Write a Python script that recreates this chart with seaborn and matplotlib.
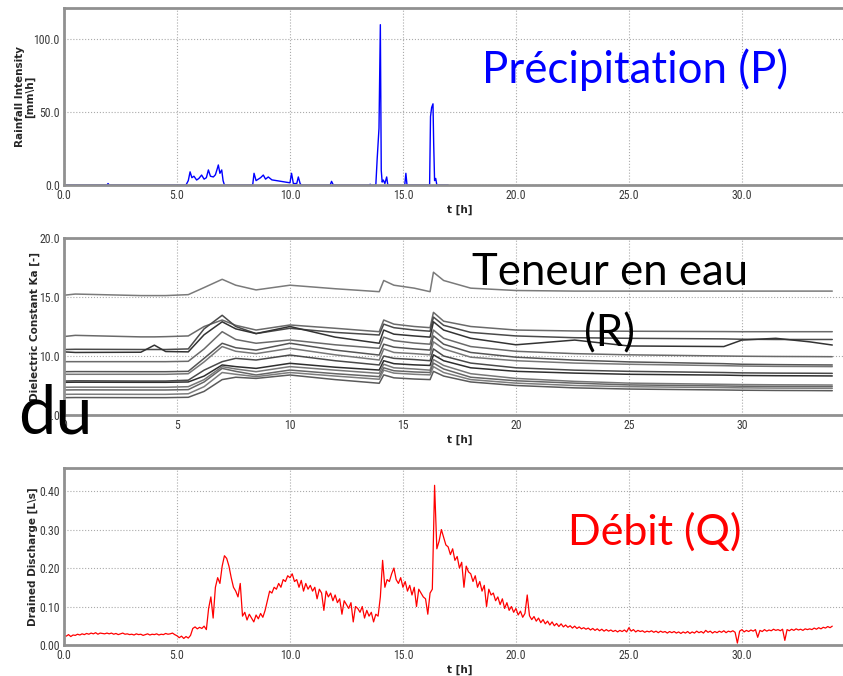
import numpy as np
import pandas as pd
import matplotlib
matplotlib.use("Agg")
import matplotlib.pyplot as plt
import seaborn as sns

# ---------------- data ----------------
# Rainfall intensity [mm/h]
t_rain = [0.0, 1.90, 1.95, 2.00, 5.40, 5.50, 5.58, 5.66, 5.75, 5.87, 5.97, 6.09, 6.20, 6.30,
          6.39, 6.48, 6.61, 6.70, 6.78, 6.83, 6.90, 6.98, 7.04, 7.10, 8.35, 8.41, 8.50, 8.60,
          8.70, 8.82, 8.92, 9.04, 9.20, 9.40, 9.60, 9.80, 10.00, 10.07, 10.15, 10.30, 10.37,
          10.45, 10.50, 11.78, 11.84, 11.92, 13.50, 13.55, 13.60, 13.80, 13.86, 13.94, 14.00,
          14.04, 14.08, 14.13, 14.20, 14.28, 14.33, 15.08, 15.13, 15.18, 16.18, 16.22, 16.27,
          16.33, 16.36, 16.40, 16.45, 16.50, 17.00]
v_rain = [0, 0, 1.0, 0, 0, 3.0, 9.0, 5.0, 6.0, 3.4, 4.5, 6.8, 4.0, 5.0,
          10.3, 6.0, 5.5, 7.0, 11.0, 13.7, 8.0, 10.3, 3.0, 0, 0, 8.0, 3.0, 4.0,
          5.0, 6.8, 4.0, 5.5, 3.5, 3.0, 2.5, 2.0, 1.5, 8.0, 1.0, 1.0, 5.5,
          1.0, 0, 0, 2.5, 0, 0, 0.5, 0, 0, 18.0, 38.8, 109.6,
          10.0, 2.0, 3.4, 1.0, 5.5, 0, 0, 8.0, 0, 0, 46.8, 53.0,
          55.5, 28.5, 3.0, 4.5, 0, 0]

# Dielectric constant Ka [-] for 13 sensors, read at common times
t_ka = [0, 0.5, 3.4, 4.0, 4.5, 5.5, 6.2, 7.0, 7.6, 8.5, 10.0, 12.0, 13.95, 14.15,
        14.6, 15.5, 16.2, 16.35, 16.8, 18.0, 20.0, 22.6, 25.0, 29.2, 30.0, 31.5, 33.0, 34.0]
ka_s1 = [15.15, 15.25, 15.12, 15.12, 15.12, 15.2, 15.8, 16.5, 16.0, 15.6, 16.0, 15.7, 15.45, 16.4,
         16.0, 15.75, 15.45, 17.1, 16.4, 15.75, 15.55, 15.5, 15.5, 15.5, 15.5, 15.5, 15.5, 15.5]
ka_s2 = [11.65, 11.75, 11.62, 11.62, 11.64, 11.7, 12.5, 13.05, 12.6, 12.2, 12.63, 12.35, 12.06, 13.05,
         12.7, 12.5, 12.4, 13.7, 12.95, 12.5, 12.2, 12.12, 12.1, 12.07, 12.06, 12.06, 12.06, 12.06]
ka_s3 = [10.55, 10.57, 10.55, 10.55, 10.55, 10.6, 12.3, 13.45, 12.5, 11.9, 12.35, 12.0, 11.78, 12.7,
         12.4, 12.2, 12.1, 13.3, 12.6, 12.0, 11.7, 11.55, 11.5, 11.45, 11.42, 11.4, 11.4, 11.4]
ka_s4 = [10.35, 10.3, 10.32, 10.92, 10.38, 10.35, 11.8, 12.9, 12.3, 11.9, 12.5, 11.6, 11.08, 12.2,
         11.85, 11.7, 11.6, 12.9, 12.2, 11.5, 10.95, 11.35, 10.85, 10.8, 11.35, 11.5, 11.2, 10.93]
ka_s5 = [9.52, 9.52, 9.52, 9.52, 9.52, 9.55, 10.6, 12.06, 11.4, 11.08, 11.36, 10.95, 10.65, 11.6,
         11.3, 11.1, 11.0, 12.2, 11.5, 10.8, 10.4, 10.2, 10.1, 10.0, 9.98, 9.96, 9.95, 9.94]
ka_s6 = [8.67, 8.68, 8.67, 8.67, 8.67, 8.7, 9.8, 11.08, 10.7, 10.5, 11.08, 10.5, 10.08, 11.0,
         10.75, 10.6, 10.5, 11.7, 11.0, 10.3, 9.9, 9.65, 9.5, 9.35, 9.3, 9.27, 9.25, 9.24]
ka_s7 = [8.45, 8.45, 8.45, 8.45, 8.45, 8.5, 9.5, 10.8, 10.4, 10.2, 10.65, 10.1, 9.66, 10.6,
         10.3, 10.2, 10.1, 11.2, 10.6, 9.9, 9.6, 9.4, 9.3, 9.18, 9.15, 9.12, 9.11, 9.1]
ka_s8 = [7.88, 7.9, 7.88, 7.88, 7.88, 7.95, 8.8, 9.52, 9.8, 9.66, 10.08, 9.6, 9.24, 10.0,
         9.8, 9.7, 9.6, 10.6, 10.0, 9.4, 9.0, 8.8, 8.7, 8.6, 8.57, 8.55, 8.54, 8.53]
ka_s9 = [7.77, 7.78, 7.77, 7.77, 7.77, 7.8, 8.3, 9.24, 9.1, 8.95, 9.38, 9.05, 8.81, 9.6,
         9.35, 9.25, 9.2, 10.1, 9.6, 9.0, 8.7, 8.55, 8.45, 8.38, 8.35, 8.33, 8.32, 8.31]
ka_s10 = [7.35, 7.36, 7.35, 7.35, 7.35, 7.4, 8.0, 9.1, 8.9, 8.67, 9.1, 8.8, 8.53, 9.3,
          9.0, 8.9, 8.8, 9.7, 9.2, 8.5, 8.1, 7.85, 7.7, 7.6, 7.58, 7.56, 7.55, 7.54]
ka_s11 = [7.12, 7.13, 7.12, 7.12, 7.12, 7.15, 7.8, 8.95, 8.7, 8.39, 8.81, 8.5, 8.25, 9.0,
          8.75, 8.65, 8.6, 9.4, 8.9, 8.2, 7.9, 7.7, 7.55, 7.46, 7.44, 7.42, 7.41, 7.4]
ka_s12 = [6.75, 6.76, 6.75, 6.75, 6.75, 6.8, 7.4, 8.6, 8.45, 8.25, 8.6, 8.3, 8.03, 8.8,
          8.55, 8.45, 8.4, 9.1, 8.6, 8.0, 7.7, 7.5, 7.4, 7.32, 7.3, 7.28, 7.27, 7.26]
ka_s13 = [6.47, 6.48, 6.47, 6.47, 6.47, 6.5, 7.0, 8.0, 8.2, 8.1, 8.39, 8.0, 7.69, 8.4,
          8.15, 8.05, 8.0, 8.7, 8.3, 7.8, 7.5, 7.3, 7.2, 7.12, 7.1, 7.08, 7.07, 7.06]
ka_series = [ka_s1, ka_s2, ka_s3, ka_s4, ka_s5, ka_s6, ka_s7, ka_s8, ka_s9, ka_s10, ka_s11, ka_s12, ka_s13]

# Drained discharge [L/s], one value every 0.1 h from t = 0 to 34 h
q_values = [
    0.025, 0.023, 0.027, 0.022, 0.026, 0.025, 0.028, 0.026, 0.029, 0.027,
    0.030, 0.028, 0.031, 0.029, 0.032, 0.028, 0.031, 0.030, 0.029, 0.031,
    0.029, 0.031, 0.028, 0.030, 0.027, 0.029, 0.031, 0.028, 0.029, 0.027,
    0.028, 0.026, 0.029, 0.027, 0.028, 0.025, 0.027, 0.029, 0.026, 0.028,
    0.027, 0.029, 0.026, 0.028, 0.027, 0.030, 0.028, 0.029, 0.031, 0.027,
    0.024, 0.019, 0.023, 0.017, 0.022, 0.018, 0.025, 0.043, 0.047, 0.042,
    0.046, 0.043, 0.049, 0.040, 0.095, 0.125, 0.070, 0.150, 0.175, 0.160,
    0.205, 0.232, 0.225, 0.205, 0.175, 0.150, 0.140, 0.125, 0.160, 0.075,
    0.085, 0.065, 0.080, 0.070, 0.060, 0.078, 0.068, 0.082, 0.072, 0.090,
    0.115, 0.140, 0.135, 0.150, 0.145, 0.160, 0.150, 0.170, 0.165, 0.180,
    0.175, 0.185, 0.165, 0.170, 0.150, 0.168, 0.140, 0.160, 0.145, 0.155,
    0.140, 0.150, 0.120, 0.145, 0.135, 0.090, 0.140, 0.125, 0.135, 0.115,
    0.130, 0.110, 0.120, 0.080, 0.115, 0.105, 0.095, 0.110, 0.060, 0.100,
    0.095, 0.085, 0.100, 0.070, 0.090, 0.075, 0.085, 0.060, 0.080, 0.075,
    0.125, 0.220, 0.150, 0.170, 0.165, 0.185, 0.200, 0.170, 0.160, 0.175,
    0.150, 0.165, 0.140, 0.155, 0.130, 0.150, 0.100, 0.145, 0.135, 0.125,
    0.120, 0.080, 0.135, 0.145, 0.415, 0.250, 0.270, 0.300, 0.280, 0.260,
    0.255, 0.235, 0.250, 0.220, 0.230, 0.200, 0.215, 0.150, 0.205, 0.190,
    0.185, 0.165, 0.180, 0.150, 0.165, 0.140, 0.155, 0.100, 0.145, 0.130,
    0.135, 0.115, 0.125, 0.105, 0.120, 0.095, 0.110, 0.090, 0.100, 0.085,
    0.095, 0.078, 0.088, 0.072, 0.082, 0.130, 0.076, 0.066, 0.074, 0.062,
    0.070, 0.058, 0.066, 0.055, 0.062, 0.052, 0.060, 0.050, 0.056, 0.048,
    0.055, 0.047, 0.052, 0.046, 0.050, 0.044, 0.049, 0.043, 0.047, 0.042,
    0.045, 0.041, 0.044, 0.039, 0.043, 0.038, 0.042, 0.037, 0.041, 0.036,
    0.040, 0.036, 0.039, 0.035, 0.038, 0.034, 0.038, 0.035, 0.039, 0.034,
    0.045, 0.036, 0.040, 0.034, 0.038, 0.035, 0.037, 0.033, 0.036, 0.034,
    0.037, 0.033, 0.036, 0.032, 0.036, 0.033, 0.035, 0.031, 0.035, 0.032,
    0.035, 0.031, 0.034, 0.030, 0.034, 0.031, 0.035, 0.030, 0.034, 0.031,
    0.036, 0.032, 0.035, 0.031, 0.038, 0.033, 0.036, 0.031, 0.035, 0.032,
    0.036, 0.033, 0.037, 0.032, 0.036, 0.034, 0.037, 0.033, 0.005, 0.036,
    0.040, 0.034, 0.038, 0.035, 0.039, 0.036, 0.040, 0.020, 0.038, 0.035,
    0.040, 0.036, 0.039, 0.037, 0.041, 0.038, 0.040, 0.037, 0.041, 0.012,
    0.040, 0.037, 0.041, 0.038, 0.042, 0.039, 0.041, 0.038, 0.042, 0.040,
    0.042, 0.040, 0.044, 0.041, 0.045, 0.042, 0.046, 0.044, 0.048, 0.045,
    0.049]
q_step = 0.1

rain_ticks = [0.0, 50.0, 100.0]
ka_ticks = [5.0, 10.0, 15.0, 20.0]
q_ticks = [0.0, 0.1, 0.2, 0.3, 0.4]
t_ticks = [0, 5, 10, 15, 20, 25, 30]

# ---------------- style ----------------
sns.set_style("white")
plt.rcParams["font.family"] = ["DejaVu Sans"]

W, H = 843, 676
fig = plt.figure(figsize=(W / 100, H / 100), dpi=100)
fig.patch.set_facecolor("white")

LEFT_PX, RIGHT_PX = 64, 856

def add_ax(top_px, bottom_px):
    return fig.add_axes([LEFT_PX / W, 1 - bottom_px / H,
                         (RIGHT_PX - LEFT_PX) / W, (bottom_px - top_px) / H])

tick_font = ["Liberation Sans Narrow", "DejaVu Sans Condensed", "Roboto Condensed", "DejaVu Sans"]

def style_ax(ax, yticks, yfmt, xfmt, ylabel, label_right_px):
    ax.set_xlim(0, 35.05)
    ax.set_xticks(t_ticks)
    ax.set_xticklabels([xfmt.format(v) for v in t_ticks])
    ax.set_yticks(yticks)
    ax.set_yticklabels([yfmt.format(v) for v in yticks])
    ax.grid(True, linestyle=":", color="#aaaaaa", linewidth=0.8)
    for s in ax.spines.values():
        s.set_color("#909090")
        s.set_linewidth(2.0)
        s.set_visible(True)
    ax.tick_params(axis="both", length=0, pad=3, labelsize=8.5, labelcolor="#3a3a3a")
    for lab in ax.get_xticklabels() + ax.get_yticklabels():
        lab.set_family(tick_font)
    ax.set_xlabel("t [h]", fontsize=7.5, fontweight="bold", labelpad=2)
    ax.set_ylabel(ylabel, fontsize=7.5, fontweight="bold", linespacing=1.0)
    ax.yaxis.set_label_coords((label_right_px - LEFT_PX) / (RIGHT_PX - LEFT_PX), 0.5)

# ---- Panel 1: rainfall
ax1 = add_ax(8, 185)
df_rain = pd.DataFrame({"t": t_rain, "P": v_rain})
sns.lineplot(data=df_rain, x="t", y="P", ax=ax1, color="#0000ff", linewidth=1.0,
             estimator=None, sort=False)
ax1.set_ylim(0, 121)
style_ax(ax1, rain_ticks, "{:.1f}", "{:.1f}", "Rainfall Intensity\n[mm\\h]", 35)

# ---- Panel 2: dielectric constant
ax2 = add_ax(238, 415)
rows = []
for i, s in enumerate(ka_series):
    for t, v in zip(t_ka, s):
        rows.append({"t": t, "Ka": v, "sensor": f"S{i+1}"})
df_ka = pd.DataFrame(rows)
greys = ["#7a7a7a", "#6a6a6a", "#4a4a4a", "#333333", "#6a6a6a", "#555555", "#777777",
         "#4a4a4a", "#2e2e2e", "#777777", "#666666", "#7d7d7d", "#5a5a5a"]
sns.lineplot(data=df_ka, x="t", y="Ka", hue="sensor", palette=greys, ax=ax2,
             linewidth=1.1, estimator=None, legend=False)
ax2.set_ylim(5, 20)
style_ax(ax2, ka_ticks, "{:.1f}", "{:d}", "Dielectric Constant Ka [-]", 40)

# ---- Panel 3: discharge
ax3 = add_ax(468, 645)
t_q = np.arange(len(q_values)) * q_step
df_q = pd.DataFrame({"t": t_q, "Q": q_values})
sns.lineplot(data=df_q, x="t", y="Q", ax=ax3, color="#ff0000", linewidth=0.9,
             estimator=None)
ax3.set_ylim(0, 0.46)
style_ax(ax3, q_ticks, "{:.2f}", "{:.1f}", "Drained Discharge [L\\s]", 38)

# ---- overlay annotations
def ftext(x_px, y_px, s, **kw):
    fig.text(x_px / W, 1 - y_px / H, s, **kw)

ann_font = ["Lato", "DejaVu Sans"]
ftext(635, 83, "Précipitation (P)", color="#0000ff", fontsize=31.5, ha="center",
      va="baseline", family=ann_font)
ftext(610, 285, "Teneur en eau", color="black", fontsize=31.5, ha="center",
      va="baseline", family=ann_font)
ftext(610, 346, "(R)", color="black", fontsize=31.5, ha="center",
      va="baseline", family=ann_font)
ftext(655, 545, "Débit (Q)", color="#ff0000", fontsize=31, ha="center",
      va="baseline", family=ann_font)
ftext(18, 433, "du", color="black", fontsize=48, ha="left",
      va="baseline", family=ann_font)

fig.savefig("out.png", dpi=100, facecolor="white")
